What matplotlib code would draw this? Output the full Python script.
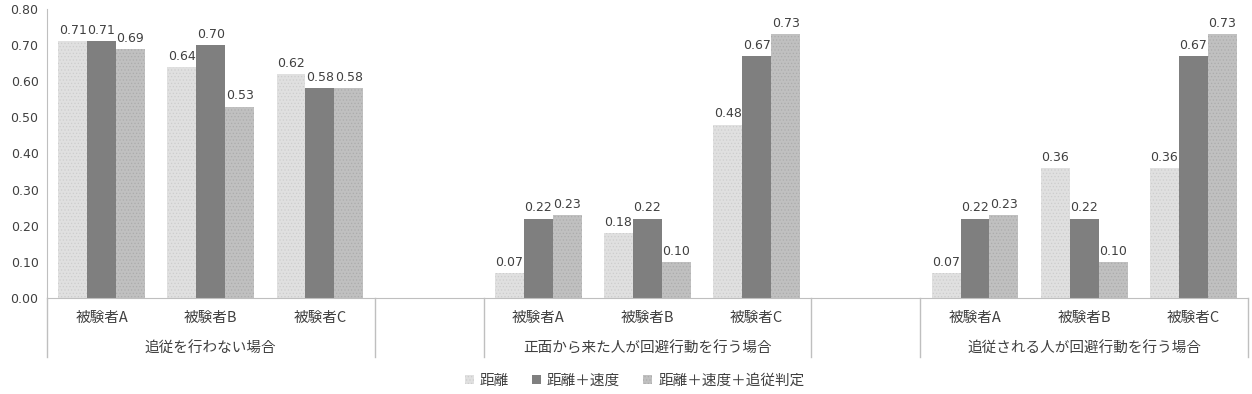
import matplotlib.pyplot as plt
from matplotlib.transforms import blended_transform_factory

plt.rcParams['font.family'] = ['Noto Sans CJK JP', 'DejaVu Sans']
plt.rcParams['hatch.linewidth'] = 0.5

groups = ["追従を行わない場合", "正面から来た人が回避行動を行う場合", "追従される人が回避行動を行う場合"]
subjects = ["被験者A", "被験者B", "被験者C"]
series = ["距離", "距離＋速度", "距離＋速度＋追従判定"]

dist = [0.71, 0.64, 0.62, 0.07, 0.18, 0.48, 0.07, 0.36, 0.36]
dist_speed = [0.71, 0.70, 0.58, 0.22, 0.22, 0.67, 0.22, 0.22, 0.67]
dist_speed_follow = [0.69, 0.53, 0.58, 0.23, 0.10, 0.73, 0.23, 0.10, 0.73]

# look of each series: face, hatch colour, hatch
styles = [("#e0e0e0", "#cdcdcd", "....."),
          ("#7f7f7f", "#7f7f7f", None),
          ("#c0c0c0", "#acacac", ".....")]

# one empty category slot between groups
xs = []
for g in range(len(groups)):
    for s in range(len(subjects)):
        xs.append(g * (len(subjects) + 1) + s)

fig = plt.figure(figsize=(12.52, 3.94), dpi=100)
ax = fig.add_axes([0.0375, 0.2437, 0.9593, 0.7335])

w = 0.265
text_col = "#404040"
for i, (vals, name) in enumerate(zip([dist, dist_speed, dist_speed_follow], series)):
    face, hc, hatch = styles[i]
    pos = [x + (i - 1) * w for x in xs]
    bars = ax.bar(pos, vals, width=w, color=face, edgecolor=hc, linewidth=0,
                  hatch=hatch, label=name)
    ax.bar_label(bars, fmt='%.2f', padding=3, fontsize=9, color=text_col,
                 family=['DejaVu Sans'])

n_slots = len(groups) * (len(subjects) + 1) - 1
ax.set_xlim(-0.5, n_slots - 0.5)
ax.set_ylim(0, 0.8)
ax.set_yticks([i / 10 for i in range(9)])
ax.set_yticklabels([f"{i / 10:.2f}" for i in range(9)], fontsize=9, color=text_col,
                   family=['DejaVu Sans'])
ax.tick_params(axis='y', length=0, pad=6)
ax.set_xticks([])
for side in ['top', 'right']:
    ax.spines[side].set_visible(False)
ax.spines['left'].set_color("#bfbfbf")
ax.spines['bottom'].set_color("#bfbfbf")

trans = blended_transform_factory(ax.transData, ax.transAxes)
for g, gname in enumerate(groups):
    start = g * (len(subjects) + 1)
    for s, sname in enumerate(subjects):
        ax.text(start + s, -0.068, sname, transform=trans, ha='center', va='center',
                fontsize=10.5, color=text_col)
    ax.text(start + 1, -0.176, gname, transform=trans, ha='center', va='center',
            fontsize=10.5, color=text_col)
    for edge in (start - 0.5, start + len(subjects) - 0.5):
        ax.plot([edge, edge], [0, -0.205], transform=trans, color="#bfbfbf",
                lw=1, clip_on=False)

fig.legend(loc='center', bbox_to_anchor=(0.507, 0.033), ncol=3, frameon=False,
           fontsize=10.5, handlelength=0.6, handleheight=0.6, handletextpad=0.4,
           columnspacing=1.6, labelcolor=text_col)

fig.savefig("out.png", dpi=100)
